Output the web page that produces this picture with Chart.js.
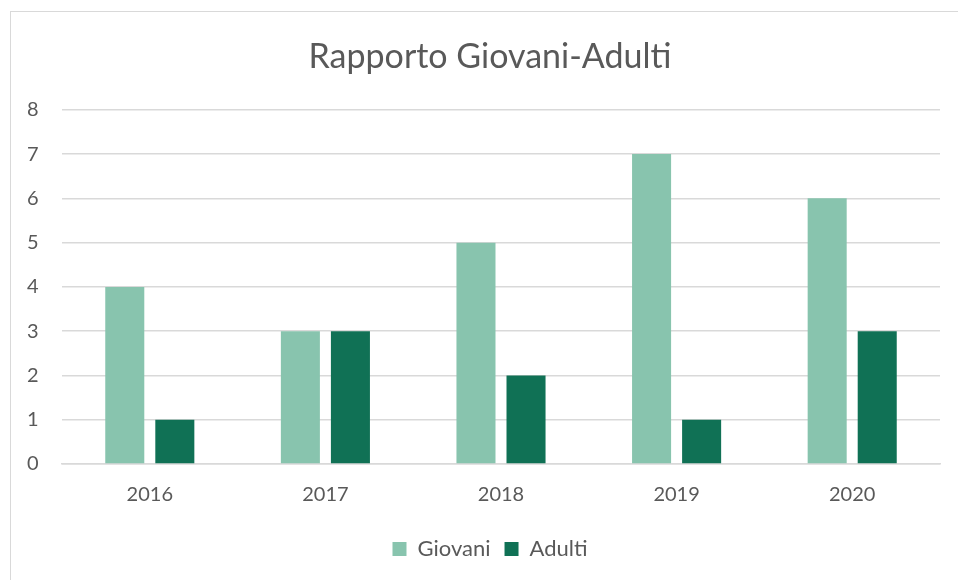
<!DOCTYPE html>
<html>
<head>
<meta charset="utf-8">
<script src="https://cdn.jsdelivr.net/npm/chart.js@4.4.1/dist/chart.umd.min.js"></script>
<style>
  html, body { margin: 0; padding: 0; background: #fff; overflow: hidden; width: 958px; height: 580px; }
  #frame { position: absolute; left: 10px; top: 11px; width: 960px; height: 580px; border: 1px solid #d9d9d9; box-sizing: border-box; }
  #chartBox { position: absolute; left: 10px; top: 11px; width: 960px; height: 569px; }
</style>
</head>
<body>
<div id="frame"></div>
<div id="chartBox"><canvas id="chart"></canvas></div>
<script>
const years = ["2016", "2017", "2018", "2019", "2020"];
const giovani = [4, 3, 5, 7, 6];
const adulti = [1, 3, 2, 1, 3];
const yTicks = [0, 1, 2, 3, 4, 5, 6, 7, 8];

const textColor = "#595959";
const gridColor = "#d9d9d9";
const fontFamily = "Lato, 'Open Sans', sans-serif";

new Chart(document.getElementById("chart"), {
  type: "bar",
  data: {
    labels: years,
    datasets: [
      { label: "Giovani", data: giovani, backgroundColor: "#88c4ae", borderWidth: 0 },
      { label: "Adulti", data: adulti, backgroundColor: "#107155", borderWidth: 0 }
    ]
  },
  options: {
    responsive: true,
    maintainAspectRatio: false,
    animation: false,
    datasets: { bar: { categoryPercentage: 0.57, barPercentage: 0.78 } },
    layout: { padding: { left: 30, right: 30, top: 0, bottom: 10 } },
    plugins: {
      title: {
        display: true,
        text: "Rapporto Giovani-Adulti",
        color: textColor,
        font: { family: fontFamily, size: 34, weight: "normal" },
        padding: { top: 26, bottom: 32 }
      },
      legend: {
        position: "bottom",
        labels: {
          color: textColor,
          font: { family: fontFamily, size: 22 },
          boxWidth: 14,
          boxHeight: 14,
          padding: 14
        }
      },
      tooltip: { enabled: false }
    },
    scales: {
      x: {
        grid: { display: false },
        border: { color: gridColor, width: 1.5 },
        ticks: { color: textColor, font: { family: fontFamily, size: 20 }, padding: 11 },
        afterFit: (scale) => { scale.height = 60; }
      },
      y: {
        min: 0,
        max: 8,
        afterBuildTicks: (scale) => { scale.ticks = yTicks.map(v => ({ value: v })); },
        grid: { color: gridColor, lineWidth: 1.5, drawTicks: false },
        border: { display: false },
        // mirrored with negative padding so the labels sit left of the narrow axis box
        ticks: { color: textColor, font: { family: fontFamily, size: 20 }, mirror: true, crossAlign: "far", padding: -35 },
        afterFit: (scale) => { scale.width = 22; }
      }
    }
  }
});
</script>
</body>
</html>
